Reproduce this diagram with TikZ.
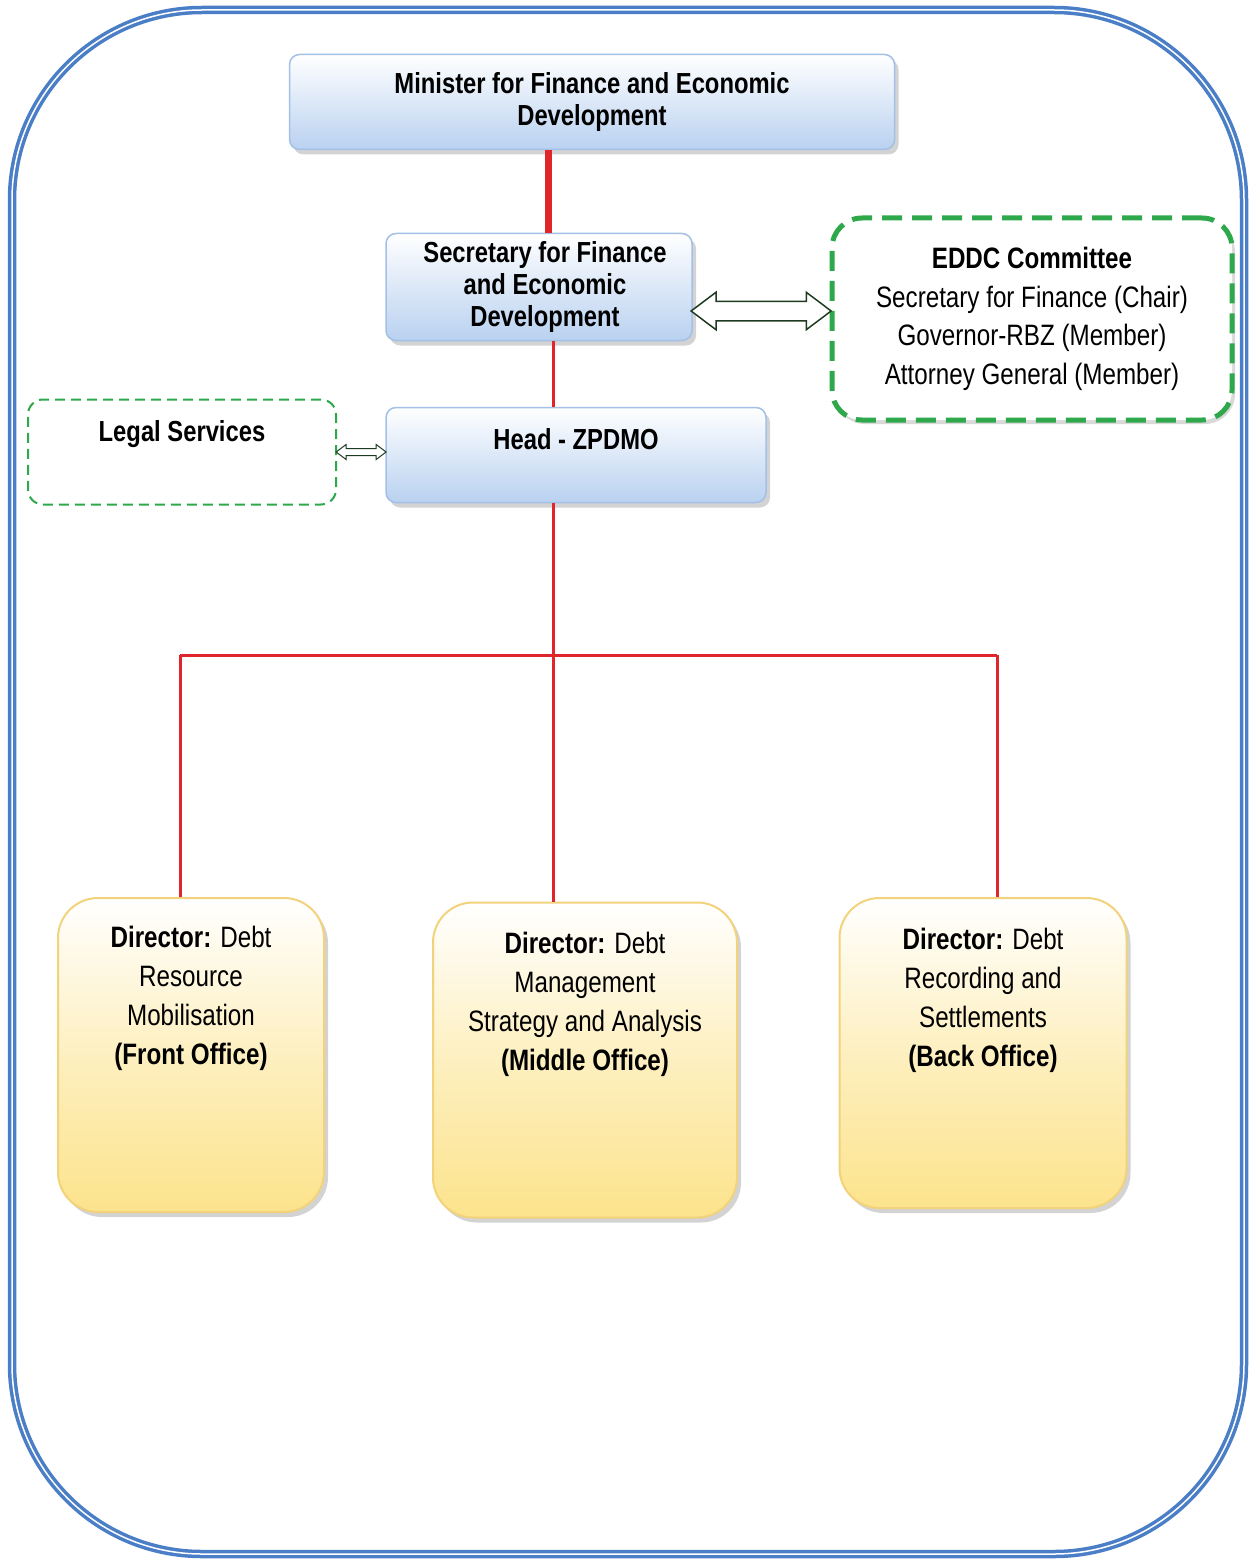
\documentclass[tikz,border=0pt]{standalone}
\usepackage{fontspec}
\setmainfont{Liberation Sans}[FakeStretch=0.82]
\usepackage{tikz}
\usetikzlibrary{positioning,calc,shapes.arrows,shadows}
\definecolor{frameblue}{HTML}{4A7EC6}
\definecolor{boxblue}{HTML}{B9D1F0}
\definecolor{edgeblue}{HTML}{A3C0E6}
\definecolor{linkred}{HTML}{E0262B}
\definecolor{dashgreen}{HTML}{2EA84B}
\definecolor{arrowgreen}{HTML}{1E3B22}
\definecolor{dirfill}{HTML}{FCE38C}
\definecolor{diredge}{HTML}{F2D27A}

\begin{document}
\begin{tikzpicture}[x=1pt, y=-1pt,
  bluebox/.style={draw=edgeblue, line width=1.5pt, rounded corners=10pt, top color=white, bottom color=boxblue, align=center, font=\fontsize{29}{32}\selectfont\bfseries, drop shadow={opacity=.35, shadow xshift=4pt, shadow yshift=-5pt}},
  dirbox/.style={draw=diredge, line width=2pt, rounded corners=40pt, top color=white, bottom color=dirfill, middle color=dirfill!55, drop shadow={opacity=.35, shadow xshift=4pt, shadow yshift=-5pt}},
  dirtext/.style={align=center, inner sep=0pt, font=\fontsize{29.5}{39}\selectfont},
  greenbox/.style={draw=dashgreen, dashed, fill=white},
  link/.style={draw=linkred, line width=3pt},
  hollow/.style={double arrow, draw=arrowgreen, fill=white, line width=1.5pt, double arrow tip angle=74}
]
% frame
\draw[draw=frameblue, line width=3.5pt, double=white, double distance=1.5pt, rounded corners=190pt] (12,10) rectangle (1244,1554);
\useasboundingbox (0,0) rectangle (1255,1562);

% top of the office
\node[bluebox, minimum width=605pt, minimum height=95pt] (min) at (592,102) {Minister for Finance and Economic\\Development};
\node[bluebox, minimum width=306pt, minimum height=107pt] (sec) at (539,287) {\hspace*{12pt}Secretary for Finance\\\hspace*{12pt}and Economic\\\hspace*{12pt}Development};
\node[greenbox, line width=5pt, dash pattern=on 20pt off 10pt, rounded corners=30pt, minimum width=400pt, minimum height=202pt, align=center, font=\fontsize{29.5}{38.5}\selectfont, drop shadow={opacity=.3, shadow xshift=3pt, shadow yshift=-4pt}] (eddc) at (1032,319) {\textbf{EDDC Committee}\\Secretary for Finance (Chair)\\Governor-RBZ (Member)\\Attorney General (Member)};
\node[bluebox, minimum width=380pt, minimum height=95pt] (head) at (576,455) {};
\node[font=\fontsize{29}{32}\selectfont\bfseries, inner sep=0pt, below=22pt of head.north] (headtxt) {Head - ZPDMO};
\node[greenbox, line width=2pt, dash pattern=on 10pt off 6pt, rounded corners=15pt, minimum width=308pt, minimum height=105pt] (legal) at (182,452) {};
\node[font=\fontsize{29}{32}\selectfont\bfseries, inner sep=0pt, below=22pt of legal.north] (legaltxt) {Legal Services};

% directors
\node[dirbox, minimum width=266pt, minimum height=314pt] (dirL) at (191,1055) {};
\node[dirbox, minimum width=304pt, minimum height=315pt] (dirM) at (585,1060) {};
\node[dirbox, minimum width=287pt, minimum height=310pt] (dirR) at (983,1053) {};
\node[dirtext, below=29pt of dirL.north] (dirLtxt) {\textbf{Director:} Debt\\Resource\\Mobilisation\\\textbf{(Front Office)}};
\node[dirtext, below=30pt of dirM.north] (dirMtxt) {\textbf{Director:} Debt\\Management\\Strategy and Analysis\\\textbf{(Middle Office)}};
\node[dirtext, below=31pt of dirR.north] (dirRtxt) {\textbf{Director:} Debt\\Recording and\\Settlements\\\textbf{(Back Office)}};

% red lines
\coordinate (trunk) at (553,655);
\coordinate (dropL) at (180,655);
\coordinate (dropR) at (997,655);
\draw[link, line width=7pt] ([xshift=9pt]sec.north) -- ([xshift=9pt]sec.north |- min.south);
\draw[link] (sec.south -| trunk) -- (head.north -| trunk);
\draw[link] (head.south -| trunk) -- (trunk |- dirM.north);
\draw[link] (dropL) -- (dropR);
\draw[link] (dropL) -- (dropL |- dirL.north);
\draw[link] (dropR) -- (dropR |- dirR.north);

% two way arrows
\coordinate (arrowrow) at (0,311);
\node[hollow, minimum height=140pt, inner sep=9pt, double arrow head extend=9pt] (secarrow) at ($(sec.east |- arrowrow)!.5!(eddc.west |- arrowrow)$) {};
\node[hollow, line width=1pt, minimum height=50pt, inner sep=3pt, double arrow head extend=4pt] (legalarrow) at ($(legal.east)!.5!(head.west |- legal.east)$) {};
\end{tikzpicture}
\end{document}
